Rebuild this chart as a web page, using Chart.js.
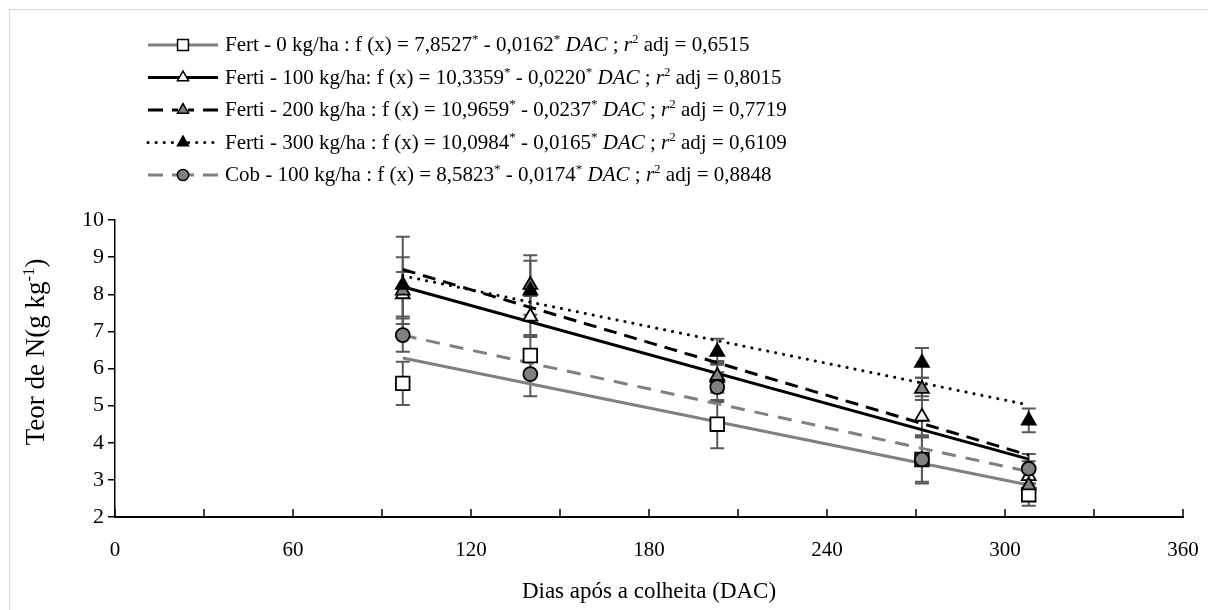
<!DOCTYPE html>
<html>
<head>
<meta charset="utf-8">
<title>Teor de N</title>
<script src="https://cdn.jsdelivr.net/npm/chart.js@4.4.1/dist/chart.umd.min.js"></script>
<style>
  html, body { margin: 0; padding: 0; background: #ffffff; }
  #wrap { position: relative; width: 1208px; height: 610px; overflow: hidden; }
  #frame { position: absolute; left: 9px; top: 9px; width: 1400px; height: 800px; border: 1px solid #d9d9d9; pointer-events: none; }
  #c { position: absolute; left: 0; top: 0; }
</style>
</head>
<body>
<div id="wrap">
  <div id="frame"></div>
  <canvas id="c" width="1208" height="610"></canvas>
</div>
<script>
// Sampling dates (days after harvest)
const days = [97, 140, 203, 272, 308];

// Series names and legend separators
const seriesNames = ['Fert - 0 kg/ha', 'Ferti - 100 kg/ha', 'Ferti - 200 kg/ha', 'Ferti - 300 kg/ha', 'Cob - 100 kg/ha'];
const nameSeparators = [' : ', ': ', ' : ', ' : ', ' : '];

// Mean N content (g kg-1)
const fert0 = [5.6, 6.35, 4.5, 3.55, 2.6];
const ferti100 = [8.0, 7.4, 5.75, 4.7, 3.1];
const ferti200 = [8.1, 8.25, 5.8, 5.45, 2.85];
const ferti300 = [8.25, 8.1, 6.45, 6.15, 4.6];
const cob100 = [6.9, 5.85, 5.5, 3.55, 3.3];

// Error bar half-widths (g kg-1)
const fert0Err = [0.58, 0.55, 0.65, 0.65, 0.3];
const ferti100Err = [0.6, 0.55, 0.4, 0.55, 0.4];
const ferti200Err = [0.9, 0.8, 0.4, 0.3, 0.4];
const ferti300Err = [1.3, 0.8, 0.35, 0.4, 0.32];
const cob100Err = [0.45, 0.6, 0.4, 0.6, 0.4];

// Linear regression coefficients: f(x) = a + b * DAC
const intercepts = [7.8527, 10.3359, 10.9659, 10.0984, 8.5823];
const slopes = [-0.0162, -0.0220, -0.0237, -0.0165, -0.0174];
const r2adj = [0.6515, 0.8015, 0.7719, 0.6109, 0.8848];

// Axis ticks
const xTicks = [0, 60, 120, 180, 240, 300, 360];
const yTicks = [2, 3, 4, 5, 6, 7, 8, 9, 10];

const means = [fert0, ferti100, ferti200, ferti300, cob100];
const errors = [fert0Err, ferti100Err, ferti200Err, ferti300Err, cob100Err];

const SERIF = '"Liberation Serif", "Times New Roman", serif';
const GRAY = '#808080';

// Per-series look
const styles = [
  { line: GRAY,   dash: [],     cap: 'butt',  marker: 'rect',     radius: 9.6, fill: '#ffffff' },
  { line: '#000', dash: [],     cap: 'butt',  marker: 'triangle', radius: 8,   fill: '#ffffff' },
  { line: '#000', dash: [13, 8], cap: 'butt', marker: 'triangle', radius: 8,   fill: GRAY },
  { line: '#000', dash: [0.1, 8], cap: 'round', marker: 'triangle', radius: 8, fill: '#000000' },
  { line: GRAY,   dash: [14, 10], cap: 'butt', marker: 'circle',  radius: 7,   fill: GRAY }
];

const fmt = (v) => v.toFixed(4).replace('.', ',');

const datasets = [];
// Fitted regression lines
means.forEach((m, i) => {
  const x0 = days[0], x1 = days[days.length - 1];
  datasets.push({
    label: seriesNames[i] + ' (ajuste)',
    data: [{ x: x0, y: intercepts[i] + slopes[i] * x0 }, { x: x1, y: intercepts[i] + slopes[i] * x1 }],
    showLine: true,
    borderColor: styles[i].line,
    borderWidth: 3,
    borderDash: styles[i].dash,
    borderCapStyle: styles[i].cap,
    pointRadius: 0,
    fill: false,
    order: 20 - i
  });
});
// Observed means
means.forEach((m, i) => {
  datasets.push({
    label: seriesNames[i],
    data: days.map((d, k) => ({ x: d, y: m[k] })),
    showLine: false,
    pointStyle: styles[i].marker,
    pointRadius: styles[i].radius,
    pointBackgroundColor: styles[i].fill,
    pointBorderColor: '#000000',
    pointBorderWidth: 1.8,
    errors: errors[i],
    order: 10 - i
  });
});

// Error bars, drawn beneath the markers
const errorBars = {
  id: 'errorBars',
  beforeDatasetsDraw(chart) {
    const ctx = chart.ctx;
    const xs = chart.scales.x, ys = chart.scales.y;
    ctx.save();
    ctx.strokeStyle = '#595959';
    ctx.lineWidth = 2;
    chart.data.datasets.forEach((ds) => {
      if (!ds.errors) return;
      ds.data.forEach((p, k) => {
        const px = xs.getPixelForValue(p.x);
        const top = ys.getPixelForValue(p.y + ds.errors[k]);
        const bot = ys.getPixelForValue(p.y - ds.errors[k]);
        ctx.beginPath();
        ctx.moveTo(px, top); ctx.lineTo(px, bot);
        ctx.moveTo(px - 7, top); ctx.lineTo(px + 7, top);
        ctx.moveTo(px - 7, bot); ctx.lineTo(px + 7, bot);
        ctx.stroke();
      });
    });
    ctx.restore();
  }
};

// Draw a run of text pieces (normal / italic / superscript) from x along the baseline y
function drawPieces(ctx, pieces, x, y, size) {
  pieces.forEach((p) => {
    const s = p.sup ? size * 0.62 : size;
    ctx.font = (p.italic ? 'italic ' : '') + s + 'px ' + SERIF;
    ctx.fillText(p.t, x, p.sup ? y - size * 0.38 : y);
    x += ctx.measureText(p.t).width;
  });
  return x;
}
function piecesWidth(ctx, pieces, size) {
  let w = 0;
  pieces.forEach((p) => {
    const s = p.sup ? size * 0.62 : size;
    ctx.font = (p.italic ? 'italic ' : '') + s + 'px ' + SERIF;
    w += ctx.measureText(p.t).width;
  });
  return w;
}

// Equation legend, x tick marks and axis titles
const decorations = {
  id: 'decorations',
  afterDraw(chart) {
    const ctx = chart.ctx;
    const xs = chart.scales.x;
    const area = chart.chartArea;
    ctx.save();

    // inward tick marks on the x axis
    ctx.strokeStyle = '#000';
    ctx.lineWidth = 1.5;
    xs.ticks.forEach((t) => {
      const px = xs.getPixelForValue(t.value);
      ctx.beginPath();
      ctx.moveTo(px, area.bottom);
      ctx.lineTo(px, area.bottom - 8);
      ctx.stroke();
    });

    // legend rows
    const rowY0 = 45, rowGap = 32.5, lx0 = 148, lx1 = 218, mx = 183, tx = 225, fs = 21;
    for (let i = 0; i < seriesNames.length; i++) {
      const y = rowY0 + i * rowGap;
      const st = styles[i];
      ctx.save();
      ctx.strokeStyle = st.line;
      ctx.lineWidth = 3;
      ctx.setLineDash(st.dash);
      ctx.lineCap = st.cap;
      ctx.beginPath();
      if (st.dash.length && st.cap === 'butt') {
        ctx.setLineDash([]);
        ctx.moveTo(lx0, y); ctx.lineTo(lx0 + 15, y);
        ctx.moveTo(mx - 11, y); ctx.lineTo(mx - 5, y);
        ctx.moveTo(mx + 5, y); ctx.lineTo(mx + 11, y);
        ctx.moveTo(lx1 - 15, y); ctx.lineTo(lx1, y);
      } else {
        ctx.moveTo(lx0, y); ctx.lineTo(lx1, y);
      }
      ctx.stroke();
      ctx.restore();
      ctx.save();
      ctx.fillStyle = st.fill;
      ctx.strokeStyle = '#000';
      ctx.lineWidth = 1.5;
      Chart.helpers.drawPoint(ctx, { pointStyle: st.marker, radius: st.radius * 0.8, borderWidth: 1.5 }, mx, y);
      ctx.restore();

      ctx.fillStyle = '#000';
      ctx.textBaseline = 'alphabetic';
      ctx.textAlign = 'left';
      const pieces = [
        { t: seriesNames[i] + nameSeparators[i] + 'f (x) = ' + fmt(intercepts[i]) },
        { t: '*', sup: true },
        { t: ' - ' + fmt(Math.abs(slopes[i])) },
        { t: '*', sup: true },
        { t: ' ' },
        { t: 'DAC', italic: true },
        { t: ' ; ' },
        { t: 'r', italic: true },
        { t: '2', sup: true },
        { t: ' adj = ' + fmt(r2adj[i]) }
      ];
      drawPieces(ctx, pieces, tx, y + 6, fs);
    }

    // x axis title
    ctx.fillStyle = '#000';
    ctx.textAlign = 'center';
    ctx.textBaseline = 'alphabetic';
    ctx.font = '23px ' + SERIF;
    ctx.fillText('Dias após a colheita (DAC)', (area.left + area.right) / 2, 598);

    // y axis title, rotated
    const ySize = 27;
    const yPieces = [{ t: 'Teor de N(g kg' }, { t: '-1', sup: true }, { t: ')' }];
    const w = piecesWidth(ctx, yPieces, ySize);
    ctx.translate(44, 352);
    ctx.rotate(-Math.PI / 2);
    ctx.textAlign = 'left';
    drawPieces(ctx, yPieces, -w / 2, 0, ySize);
    ctx.restore();
  }
};

new Chart(document.getElementById('c'), {
  type: 'scatter',
  data: { datasets },
  options: {
    responsive: false,
    animation: false,
    events: [],
    layout: { padding: { left: 0, top: 220, right: 25, bottom: 0 } },
    plugins: { legend: { display: false }, tooltip: { enabled: false } },
    scales: {
      x: {
        type: 'linear',
        min: xTicks[0],
        max: xTicks[xTicks.length - 1],
        afterFit(s) { s.height = 93; s.paddingLeft = 0; s.paddingRight = 0; },
        afterBuildTicks(s) {
          const out = [];
          for (let v = xTicks[0]; v <= xTicks[xTicks.length - 1]; v += 30) out.push({ value: v });
          s.ticks = out;
        },
        grid: { display: false },
        border: { display: true, color: '#000', width: 2 },
        ticks: {
          autoSkip: false,
          maxRotation: 0,
          padding: 13,
          color: '#000',
          font: { family: SERIF, size: 21 },
          callback: (v) => (xTicks.includes(v) ? String(v) : '')
        }
      },
      y: {
        type: 'linear',
        min: yTicks[0],
        max: yTicks[yTicks.length - 1],
        afterFit(s) { s.width = 115; s.paddingTop = 0; s.paddingBottom = 0; },
        afterBuildTicks(s) { s.ticks = yTicks.map((v) => ({ value: v })); },
        grid: { display: true, drawOnChartArea: false, tickLength: 7, color: '#000', lineWidth: 1.5 },
        border: { display: true, color: '#000', width: 1.5 },
        ticks: {
          padding: 4,
          color: '#000',
          font: { family: SERIF, size: 22 },
          callback: (v) => String(v)
        }
      }
    }
  },
  plugins: [errorBars, decorations]
});
</script>
</body>
</html>
